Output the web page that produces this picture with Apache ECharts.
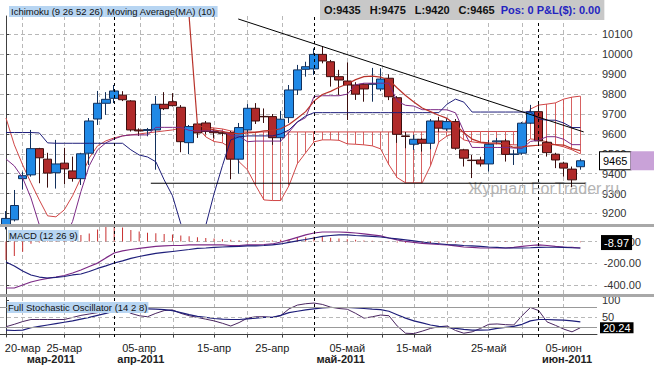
<!DOCTYPE html>
<html>
<head>
<meta charset="utf-8">
<script src="https://cdn.jsdelivr.net/npm/echarts@6/dist/echarts.min.js"></script>
<style>
html, body { margin: 0; padding: 0; background: #fff; }
#main { width: 654px; height: 368px; }
</style>
</head>
<body>
<div id="main"></div>
<script>
// one bar per session (Sunday sessions included, no bar on 22 Apr)
var dates = ['17-мар','18-мар','20-мар','21-мар','22-мар','23-мар','24-мар','25-мар','27-мар','28-мар',
    '29-мар','30-мар','31-мар','01-апр','03-апр','04-апр','05-апр','06-апр','07-апр','08-апр',
    '10-апр','11-апр','12-апр','13-апр','14-апр','15-апр','17-апр','18-апр','19-апр','20-апр',
    '21-апр','24-апр','25-апр','26-апр','27-апр','28-апр','29-апр','01-май','02-май','03-май',
    '04-май','05-май','06-май','08-май','09-май','10-май','11-май','12-май','13-май','15-май',
    '16-май','17-май','18-май','19-май','20-май','22-май','23-май','24-май','25-май','26-май',
    '27-май','29-май','30-май','31-май','01-июн','02-июн','03-июн','05-июн','06-июн','07-июн'];

var open = [9140,9168,9375,9394,9526,9473,9405,9453,9414,9375,
    9503,9675,9754,9779,9795,9766,9620,9617,9620,9749,
    9762,9734,9556,9650,9655,9612,9606,9607,9473,9620,
    9729,9688,9687,9581,9682,9821,9925,9927,10000,9963,
    9888,9866,9846,9850,9850,9826,9880,9782,9590,9548,
    9573,9553,9665,9625,9662,9520,9468,9469,9449,9560,
    9565,9497,9503,9654,9712,9558,9498,9453,9423,9435];
var close = [9175,9240,9390,9526,9480,9403,9449,9424,9376,9500,
    9665,9754,9774,9816,9772,9620,9615,9622,9749,9727,
    9742,9561,9637,9605,9612,9606,9603,9473,9632,9729,
    9665,9686,9581,9674,9821,9922,9938,10000,9967,9888,
    9871,9846,9800,9826,9852,9876,9787,9598,9587,9573,
    9553,9665,9629,9662,9528,9478,9466,9449,9548,9565,
    9497,9499,9654,9712,9565,9506,9469,9428,9369,9465];
var low = [9120,9160,9320,9385,9352,9330,9325,9348,9360,9343,
    9444,9645,9696,9755,9765,9612,9590,9588,9420,9720,
    9738,9508,9498,9580,9600,9580,9590,9372,9400,9600,
    9650,9655,9545,9560,9655,9796,9888,9896,9955,9838,
    9796,9670,9771,9762,9762,9815,9770,9555,9528,9520,
    9511,9523,9610,9615,9520,9436,9378,9436,9411,9548,
    9461,9444,9495,9650,9553,9486,9428,9385,9332,9420];
var high = [9212,9318,9410,9620,9530,9505,9570,9530,9486,9505,
    9680,9816,9810,9846,9815,9770,9628,9630,9791,9810,
    9805,9745,9645,9660,9665,9625,9615,9615,9655,9750,
    9755,9728,9700,9716,9846,9947,9963,10030,10039,9972,
    9922,9960,9860,9855,9932,9930,9900,9790,9610,9595,
    9580,9675,9686,9680,9675,9525,9494,9485,9570,9580,
    9575,9520,9660,9746,9760,9565,9505,9460,9436,9475];

// Ichimoku lines
var tenkan = [9474,9439,9379,9278,9143,9060,9020,9070,9160,9310,
    9440,9520,9555,9575,9590,9595,9595,9595,9633,9633,
    9633,9633,9618,9615,9615,9615,9615,9591,9589,9561,
    9564,9564,9564,9564,9609,9660,9682,9788,9792,9792,
    9792,9800,9847,9855,9855,9855,9855,9764,9744,9740,
    9722,9722,9722,9721,9706,9613,9532,9532,9532,9532,
    9532,9529,9527,9562,9569,9586,9586,9573,9546,9546];
var kijun = [9607,9607,9607,9607,9605,9555,9553,9553,9553,9553,
    9553,9553,9553,9553,9553,9520,9494,9484,9460,9369,
    9289,9148,9050,9050,9140,9300,9440,9570,9585,9590,
    9590,9590,9590,9600,9620,9660,9690,9707,9707,9707,
    9707,9707,9707,9707,9707,9707,9707,9707,9707,9707,
    9707,9707,9707,9750,9775,9760,9710,9710,9710,9710,
    9710,9710,9710,9710,9675,9669,9669,9655,9632,9632];
var spanTop = [9680,9545,9444,9354,9268,9188,9183,9218,9289,9379,
    9479,9540,9565,9580,9590,9595,9600,9605,9610,9615,
    9620,9630,9635,9640,9635,9630,9625,9615,9610,9610,
    9610,9610,9610,9610,9610,9610,9610,9610,9610,9610,
    9610,9610,9610,9610,9610,9610,9610,9610,9610,9610,
    9610,9610,9610,9610,9610,9612,9612,9612,9612,9612,
    9612,9612,9612,9725,9745,9750,9756,9775,9785,9790];
var spanBot = [null,null,null,null,null,null,null,null,null,null,
    null,null,null,null,null,null,null,null,null,null,
    null,null,null,9635,9585,9562,9555,9530,9460,9420,
    9340,9268,9265,9265,9340,9450,9505,9560,9570,9570,
    9568,9550,9548,9545,9540,9525,9445,9380,9354,9354,
    9354,9440,9560,9590,9605,9570,9560,9555,9550,9550,
    9548,9545,9545,9575,9570,9560,9545,9535,9520,9500];

// Moving Average (10)
var ma10 = [null,null,null,null,null,null,null,null,null,null,
    null,null,null,null,null,null,null,null,null,null,
    null,null,10190,9645,9630,9620,9612,9605,9600,9605,
    9608,9615,9618,9626,9647,9679,9712,9765,9798,9814,
    9835,9851,9873,9888,9891,9886,9871,9831,9793,9761,
    9730,9712,9694,9678,9646,9606,9574,9559,9555,9554,
    9549,9532,9535,9540,9543,9546,9546,9544,9526,9516];

// drawn lines: [bar index, price]
var trendLine = [[27.9, 10178], [69.4, 9610]];
var supportLine = [[17.4, 9352], [69.6, 9352]];

// MACD (12 26 9)
var macd = [-427,-427,-399,-372,-353,-339,-326,-312,-289,-261,
    -229,-198,-150,-105,-86,-73,-63,-54,-45,-40,
    -36,-36,-31,-31,-31,-31,-31,-36,-36,-31,
    -31,-27,-22,-4,15,38,61,79,88,88,
    88,84,79,70,61,52,33,15,1,-8,
    -17,-22,-27,-31,-40,-50,-54,-59,-59,-59,
    -59,-54,-45,-36,-31,-36,-45,-50,-54,-59];
var signal = [-188,-224,-270,-307,-326,-335,-330,-321,-307,-298,
    -275,-247,-224,-197,-178,-155,-137,-123,-109,-100,
    -91,-82,-73,-63,-59,-54,-50,-47,-45,-40,
    -39,-36,-31,-22,-8,6,19,33,47,56,
    61,61,56,52,47,42,33,24,15,6,
    -4,-13,-20,-27,-31,-36,-40,-45,-50,-54,
    -59,-59,-59,-57,-54,-52,-52,-54,-57,-59];
var hist = [-169,-132,-93,-20,-8,5,15,30,45,60,
    75,110,145,150,130,107,92,82,76,70,
    64,56,48,40,34,28,22,16,12,10,
    8,8,10,16,24,32,40,45,42,35,
    28,22,16,11,7,4,-3,-8,-11,-13,
    -14,-12,-10,-9,-8,-8,-7,-6,-5,-4,
    -3,3,6,8,6,3,-2,-4,-5,-6];

// Full Stochastic (14 2 8)
var stochK = [23,30,38,44,44,44,44,44,50,56,
    60,64,68,72,75,62,55,52,62,70,
    72,62,55,50,45,40,33,25,35,48,
    52,52,50,55,75,86,90,92,88,80,
    76,74,62,48,52,57,55,25,4,3,
    10,18,23,25,12,4,8,18,30,31,
    29,28,55,79,70,37,27,16,8,20];
var stochD = [13,12,13,20,24,28,32,36,40,45,
    50,56,62,68,72,75,76,75,74,73,
    70,64,58,53,50,47,45,44,44,46,
    48,50,50,56,64,68,72,75,78,79,
    79,79,78,76,74,73,68,58,48,40,
    34,28,24,21,18,15,13,13,14,18,
    21,24,30,40,44,44,43,42,40,37];

var priceNow = 9465, macdNow = -8.97, stochNow = 20.24;

// ticks and labels
var priceTicks = [9200,9300,9400,9500,9600,9700,9800,9900,10000,10100];
var macdTicks = [-400,-200,0];
var stochTicks = [50,100];
var gridX = [2,7,11.2,16.1,20.1,25,29,33.2,41,45.2,49.1,53,57.9,62,66.9];
var monthStart = [13,37,64];
var dayPos = [2,7,16,25,32,41,49,58,67];
var dayLabels = ['20-мар','25-мар','05-апр','15-апр','25-апр','05-май','15-май','25-май','05-июн'];
var monthPos = [5.4,16.2,40.2,67.4];
var monthLabels = ['мар-2011','апр-2011','май-2011','июн-2011'];

var FONT = '"Liberation Sans", Arial, sans-serif';
var NAVY = '#1e1e7a', PURPLE = '#7c2a86', CLOUD = '#d04646';

function pts(arr) {
    var r = [];
    arr.forEach(function (v, i) { if (v != null) r.push([i, v]); });
    return r;
}
var ohlc = open.map(function (o, i) { return [i, o, close[i], low[i], high[i]]; });
var hatch = [];
spanBot.forEach(function (b, i) {
    if (b == null) return;
    var lo = Math.min(b, spanTop[i]), hi = Math.max(b, spanTop[i]);
    hatch.push([i, lo, hi, lo, hi]);
});
var monthLines = monthStart.map(function (v) { return {xAxis: v}; });
var monthMark = {
    silent: true, symbol: ['none', 'none'], label: {show: false},
    lineStyle: {color: '#000', type: [3, 3], width: 1}, data: monthLines
};

function xa(grid, extra) {
    var a = {
        type: 'value', gridIndex: grid, position: 'bottom', min: -0.72, max: 71,
        axisLine: {show: false}, axisLabel: {show: false},
        axisTick: {show: false, customValues: gridX},
        splitLine: {show: true, lineStyle: {color: '#b8b8b8', type: [4, 3]}}
    };
    for (var k in extra) a[k] = extra[k];
    return a;
}
var axisLineStyle = {show: true, lineStyle: {color: '#404040'}};
function plain(v) { return String(v); }

var last = open.length - 1;
var chart = echarts.init(document.getElementById('main'), null, {renderer: 'svg'});
chart.setOption({
    animation: false,
    backgroundColor: '#fff',
    textStyle: {fontFamily: FONT},
    title: [
        {text: 'Ichimoku (9 26 52 26)', left: 9, top: 6, padding: [0, 2], backgroundColor: '#b7d5f2',
            textStyle: {fontSize: 9.5, lineHeight: 11, fontWeight: 'normal', color: '#111'}},
        {text: 'Moving Average(MA) (10)', left: 105, top: 6, padding: [0, 2], backgroundColor: '#b7d5f2',
            textStyle: {fontSize: 9.5, lineHeight: 11, fontWeight: 'normal', color: '#111'}},
        {text: '{k|O:' + open[last] + '}{s|}{k|H:' + high[last] + '}{s|}{k|L:' + low[last] + '}{s|}{k|C:' + close[last] + '}{t|}{p|Pos: 0 P&L($): 0.00}',
            left: 320, top: 0, padding: [1, 4], backgroundColor: '#c8c8c8',
            textStyle: {rich: {
                k: {fontSize: 11, lineHeight: 14, color: '#111', fontFamily: FONT},
                p: {fontSize: 11, lineHeight: 14, color: '#2424c0', fontFamily: FONT},
                s: {width: 9}, t: {width: 6}
            }}},
        {text: 'MACD (12 26 9)', left: 8, top: 230, padding: [0, 1], backgroundColor: '#b7d5f2',
            textStyle: {fontSize: 9.5, lineHeight: 11, fontWeight: 'normal', color: '#111'}},
        {text: 'Full Stochastic Oscillator (14 2 8)', left: 7, top: 302, padding: [0, 1], backgroundColor: '#b7d5f2',
            textStyle: {fontSize: 9.5, lineHeight: 11, fontWeight: 'normal', color: '#111'}}
    ],
    grid: [
        {left: 0, right: 57, top: 16, height: 208},
        {left: 0, right: 57, top: 227, height: 67},
        {left: 0, right: 57, top: 297, height: 40}
    ],
    xAxis: [
        xa(0, {}),
        xa(1, {}),
        xa(2, {
            axisLine: axisLineStyle,
            axisTick: {show: true, length: 3, customValues: gridX, lineStyle: {color: '#404040'}},
            axisLabel: {show: true, customValues: dayPos, margin: 5, fontSize: 11, color: '#222',
                formatter: function (v) { return dayLabels[dayPos.indexOf(v)] || ''; }}
        }),
        xa(2, {
            offset: 11, splitLine: {show: false},
            axisLabel: {show: true, customValues: monthPos, margin: 5, fontSize: 11, fontWeight: 'bold', color: '#222',
                formatter: function (v) { return monthLabels[monthPos.indexOf(v)] || ''; }}
        })
    ],
    yAxis: [
        {type: 'value', gridIndex: 0, position: 'right', min: 9147, max: 10193,
            axisLine: axisLineStyle,
            axisTick: {show: true, length: 3, customValues: priceTicks, lineStyle: {color: '#404040'}},
            axisLabel: {customValues: priceTicks, margin: 5, fontSize: 11, color: '#333', formatter: plain},
            splitLine: {show: true, lineStyle: {color: '#b8b8b8', type: [4, 3]}}},
        {type: 'value', gridIndex: 1, position: 'right', min: -482, max: 134,
            axisLine: axisLineStyle,
            axisTick: {show: true, length: 3, customValues: macdTicks, lineStyle: {color: '#404040'}},
            axisLabel: {customValues: macdTicks, margin: 44, align: 'right', fontSize: 11, color: '#333',
                formatter: function (v) { return v.toFixed(2); }},
            splitLine: {show: true, lineStyle: {color: '#b8b8b8', type: [4, 3]}}},
        {type: 'value', gridIndex: 2, position: 'right', min: -7, max: 109.6,
            axisLine: axisLineStyle,
            axisTick: {show: true, length: 3, customValues: stochTicks, lineStyle: {color: '#404040'}},
            axisLabel: {customValues: stochTicks, margin: 5, fontSize: 11, color: '#333', formatter: plain},
            splitLine: {show: false}}
    ],
    graphic: [
        {type: 'text', left: 468, top: 180, z: 1, silent: true,
            style: {text: 'Журнал ForTrader.ru', fill: '#b4b4b4', fontSize: 16, fontFamily: FONT}},
        {type: 'rect', shape: {x: 0, y: 224, width: 654, height: 3}, style: {fill: '#a8a8a8'}, z: 10, silent: true},
        {type: 'rect', shape: {x: 0, y: 294, width: 654, height: 3}, style: {fill: '#a8a8a8'}, z: 10, silent: true}
    ],
    series: [
        {name: 'Kumo', type: 'candlestick', data: hatch, barWidth: 1, z: 1,
            itemStyle: {color: CLOUD, color0: CLOUD, borderColor: CLOUD, borderColor0: CLOUD, borderWidth: 1, opacity: 0.85}},
        {name: 'Senkou A', type: 'line', data: pts(spanTop), symbol: 'none', z: 1,
            lineStyle: {color: CLOUD, width: 1}},
        {name: 'Senkou B', type: 'line', data: pts(spanBot), symbol: 'none', z: 1,
            lineStyle: {color: CLOUD, width: 1}},
        {name: 'Price', type: 'candlestick', data: ohlc, barWidth: 9, z: 2,
            itemStyle: {color: '#2089e6', color0: '#b02a2a', borderColor: '#12305c', borderColor0: '#3c0e0e', borderWidth: 1},
            markLine: {silent: true, symbol: ['none', 'none'],
                lineStyle: {color: 'rgba(0,0,0,0)'},
                data: [{yAxis: priceNow}],
                label: {show: true, position: 'end', distance: 3,
                    formatter: '{a|' + priceNow + '}{b|}',
                    rich: {
                        a: {backgroundColor: '#fff', borderColor: '#000', borderWidth: 1, color: '#000',
                            fontSize: 11, lineHeight: 12, padding: [3, 3, 3, 3], fontFamily: FONT},
                        b: {backgroundColor: '#c9a2d8', width: 26, height: 19}
                    }}}},
        {name: 'Tenkan', type: 'line', data: pts(tenkan), symbol: 'none', z: 3,
            lineStyle: {color: PURPLE, width: 1}},
        {name: 'Kijun', type: 'line', data: pts(kijun), symbol: 'none', z: 3,
            lineStyle: {color: NAVY, width: 1}},
        {name: 'MA(10)', type: 'line', data: pts(ma10), symbol: 'none', z: 3,
            lineStyle: {color: '#b8322a', width: 1.2}},
        {name: 'Trend', type: 'line', data: trendLine, symbol: 'none', z: 4,
            lineStyle: {color: '#000', width: 1}},
        {name: 'Support', type: 'line', data: supportLine, symbol: 'none', z: 4,
            lineStyle: {color: '#000', width: 1}, markLine: monthMark},

        {name: 'Histogram', type: 'bar', xAxisIndex: 1, yAxisIndex: 1, data: pts(hist), barWidth: 1,
            itemStyle: {color: '#c83030'}, markLine: monthMark},
        {name: 'MACD', type: 'line', xAxisIndex: 1, yAxisIndex: 1, data: pts(macd), symbol: 'none',
            lineStyle: {color: PURPLE, width: 1.2}},
        {name: 'Signal', type: 'line', xAxisIndex: 1, yAxisIndex: 1, data: pts(signal), symbol: 'none',
            lineStyle: {color: NAVY, width: 1.2},
            markLine: {silent: true, symbol: ['none', 'none'], lineStyle: {color: 'rgba(0,0,0,0)'},
                data: [{yAxis: macdNow}],
                label: {show: true, position: 'end', distance: 4, formatter: '{a|' + macdNow + '}',
                    rich: {a: {backgroundColor: '#000', color: '#fff', fontSize: 11, lineHeight: 13,
                        padding: [2, 3, 2, 3], fontFamily: FONT}}}}},

        {name: '%K', type: 'line', xAxisIndex: 2, yAxisIndex: 2, data: pts(stochK), symbol: 'none',
            lineStyle: {color: '#4a2660', width: 1},
            markLine: {silent: true, symbol: ['none', 'none'],
                data: [
                    {yAxis: 80, lineStyle: {color: '#999', type: 'solid', width: 1}, label: {show: false}},
                    {yAxis: 20, lineStyle: {color: '#999', type: 'solid', width: 1}, label: {show: false}},
                    {yAxis: 50, lineStyle: {color: '#b8b8b8', type: [4, 3], width: 1}, label: {show: false}},
                    {yAxis: stochNow, lineStyle: {color: 'rgba(0,0,0,0)'},
                        label: {show: true, position: 'end', distance: 3, formatter: '{a|' + stochNow + '}',
                            rich: {a: {backgroundColor: '#000', color: '#fff', fontSize: 11, lineHeight: 11,
                                padding: [0, 3, 0, 3], fontFamily: FONT}}}}
                ]}},
        {name: '%D', type: 'line', xAxisIndex: 2, yAxisIndex: 2, data: pts(stochD), symbol: 'none',
            lineStyle: {color: NAVY, width: 1.2}, markLine: monthMark}
    ]
});
</script>
</body>
</html>
